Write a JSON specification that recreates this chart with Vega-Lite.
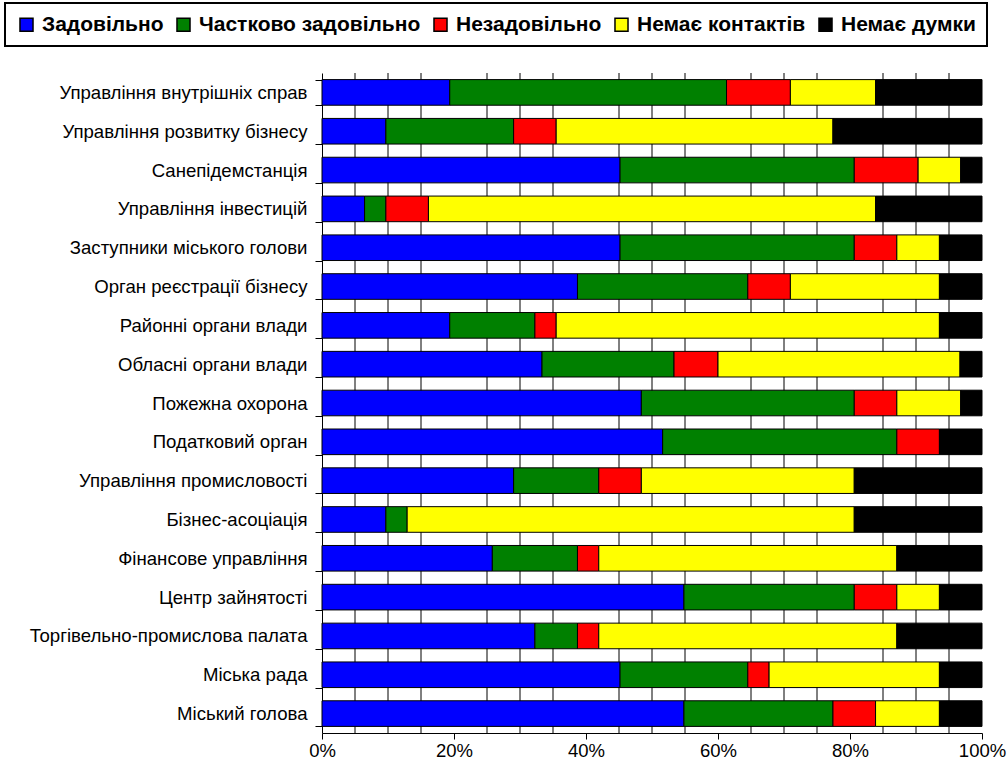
{
  "$schema": "https://vega.github.io/schema/vega-lite/v6.json",
  "width": 660,
  "height": 660,
  "autosize": "none",
  "padding": {"left": 322, "top": 73, "right": 25, "bottom": 40},
  "background": "white",
  "config": {"view": {"stroke": null}, "font": "Liberation Sans", "legend": {"strokeWidth": 2}},
  "layer": [
    {
      "data": {"values": [
        {"p": 0.05}, {"p": 0.10}, {"p": 0.15}, {"p": 0.25}, {"p": 0.30}, {"p": 0.35},
        {"p": 0.45}, {"p": 0.50}, {"p": 0.55}, {"p": 0.65}, {"p": 0.70}, {"p": 0.75},
        {"p": 0.85}, {"p": 0.90}, {"p": 0.95}
      ]},
      "mark": {"type": "rule", "color": "black", "strokeWidth": 1},
      "encoding": {
        "x": {"field": "p", "type": "quantitative", "scale": {"domain": [0, 1], "nice": false},
          "axis": {"values": [0, 0.2, 0.4, 0.6, 0.8, 1], "format": ".0%", "title": null, "grid": false,
            "tickSize": 6, "tickColor": "black", "domainColor": "black", "labelColor": "black",
            "labelFontSize": 18.5, "labelPadding": 2, "labelFlush": false}}
      }
    },
    {
      "data": {"values": [
        {"c": "Управління внутрішніх справ", "Задовільно": 6, "Частково задовільно": 13, "Незадовільно": 3, "Немає контактів": 4, "Немає думки": 5},
        {"c": "Управління розвитку бізнесу", "Задовільно": 3, "Частково задовільно": 6, "Незадовільно": 2, "Немає контактів": 13, "Немає думки": 7},
        {"c": "Санепідемстанція", "Задовільно": 14, "Частково задовільно": 11, "Незадовільно": 3, "Немає контактів": 2, "Немає думки": 1},
        {"c": "Управління інвестицій", "Задовільно": 2, "Частково задовільно": 1, "Незадовільно": 2, "Немає контактів": 21, "Немає думки": 5},
        {"c": "Заступники міського голови", "Задовільно": 14, "Частково задовільно": 11, "Незадовільно": 2, "Немає контактів": 2, "Немає думки": 2},
        {"c": "Орган реєстрації бізнесу", "Задовільно": 12, "Частково задовільно": 8, "Незадовільно": 2, "Немає контактів": 7, "Немає думки": 2},
        {"c": "Районні органи влади", "Задовільно": 6, "Частково задовільно": 4, "Незадовільно": 1, "Немає контактів": 18, "Немає думки": 2},
        {"c": "Обласні органи влади", "Задовільно": 10, "Частково задовільно": 6, "Незадовільно": 2, "Немає контактів": 11, "Немає думки": 1},
        {"c": "Пожежна охорона", "Задовільно": 15, "Частково задовільно": 10, "Незадовільно": 2, "Немає контактів": 3, "Немає думки": 1},
        {"c": "Податковий орган", "Задовільно": 16, "Частково задовільно": 11, "Незадовільно": 2, "Немає контактів": 0, "Немає думки": 2},
        {"c": "Управління промисловості", "Задовільно": 9, "Частково задовільно": 4, "Незадовільно": 2, "Немає контактів": 10, "Немає думки": 6},
        {"c": "Бізнес-асоціація", "Задовільно": 3, "Частково задовільно": 1, "Незадовільно": 0, "Немає контактів": 21, "Немає думки": 6},
        {"c": "Фінансове управління", "Задовільно": 8, "Частково задовільно": 4, "Незадовільно": 1, "Немає контактів": 14, "Немає думки": 4},
        {"c": "Центр зайнятості", "Задовільно": 17, "Частково задовільно": 8, "Незадовільно": 2, "Немає контактів": 2, "Немає думки": 2},
        {"c": "Торгівельно-промислова палата", "Задовільно": 10, "Частково задовільно": 2, "Незадовільно": 1, "Немає контактів": 14, "Немає думки": 4},
        {"c": "Міська рада", "Задовільно": 14, "Частково задовільно": 6, "Незадовільно": 1, "Немає контактів": 8, "Немає думки": 2},
        {"c": "Міський голова", "Задовільно": 17, "Частково задовільно": 7, "Незадовільно": 2, "Немає контактів": 3, "Немає думки": 2}
      ]},
      "transform": [
        {"fold": ["Задовільно", "Частково задовільно", "Незадовільно", "Немає контактів", "Немає думки"], "as": ["resp", "n"]},
        {"filter": "datum.n > 0"},
        {"lookup": "resp", "from": {"data": {"values": [
          {"resp": "Задовільно", "o": 1}, {"resp": "Частково задовільно", "o": 2}, {"resp": "Незадовільно", "o": 3},
          {"resp": "Немає контактів", "o": 4}, {"resp": "Немає думки", "o": 5}]}, "key": "resp", "fields": ["o"]}}
      ],
      "mark": {"type": "bar", "stroke": "black", "strokeWidth": 1},
      "encoding": {
        "y": {"field": "c", "type": "nominal", "sort": null,
          "scale": {"paddingInner": 0.34, "paddingOuter": 0.17},
          "axis": {"title": null, "tickBand": "extent", "tickSize": 7, "tickColor": "black", "domainColor": "black",
            "labelColor": "black", "labelFontSize": 18.6, "labelPadding": 8, "labelLimit": 400}},
        "x": {"field": "n", "type": "quantitative", "stack": "normalize", "scale": {"domain": [0, 1], "nice": false},
          "axis": {"values": [0, 0.2, 0.4, 0.6, 0.8, 1], "format": ".0%", "title": null, "grid": false,
            "tickSize": 6, "tickColor": "black", "domainColor": "black", "labelColor": "black",
            "labelFontSize": 18.5, "labelPadding": 2, "labelFlush": false}},
        "order": {"field": "o", "type": "quantitative"},
        "color": {"field": "resp", "type": "nominal",
          "scale": {"domain": ["Задовільно", "Частково задовільно", "Незадовільно", "Немає контактів", "Немає думки"],
            "range": ["#0000ff", "#008000", "#ff0000", "#ffff00", "#000000"]},
          "legend": {"title": null, "orient": "none", "legendX": -317, "legendY": -70, "direction": "horizontal",
            "columns": 5, "labelFontSize": 21, "labelFontWeight": "bold", "labelColor": "black", "labelLimit": 400,
            "symbolType": "square", "symbolSize": 170, "symbolStrokeColor": "black", "symbolStrokeWidth": 1.5,
            "symbolOpacity": 1, "labelOffset": 5, "columnPadding": 9, "padding": 11,
            "strokeColor": "black", "fillColor": "white"}}
      }
    }
  ]
}
